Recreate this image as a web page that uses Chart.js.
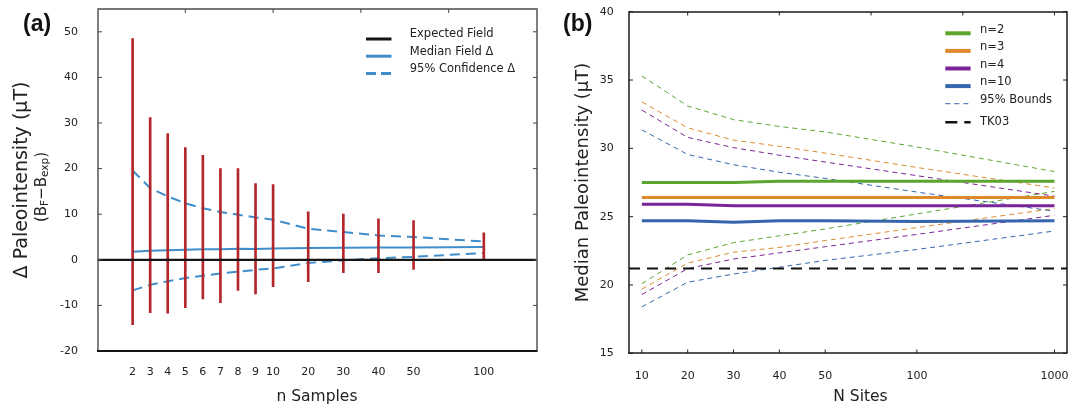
<!DOCTYPE html>
<html>
<head>
<meta charset="utf-8">
<script src="https://cdn.jsdelivr.net/npm/chart.js@4.4.1/dist/chart.umd.min.js"></script>
<style>
  html, body { margin: 0; padding: 0; background: #fff; }
  #wrap { position: relative; width: 1075px; height: 407px; overflow: hidden; }
  .panel { position: absolute; top: 0; height: 407px; }
  #pa { left: 0; width: 540px; }
  #pb { left: 540px; width: 535px; }
</style>
</head>
<body>
<div id="wrap">
  <div class="panel" id="pa"><canvas id="ca" width="540" height="407"></canvas></div>
  <div class="panel" id="pb"><canvas id="cb" width="535" height="407"></canvas></div>
</div>
<script>
// ---------- panel (a): field offset against number of samples ----------
const sampleLabels = ['2', '3', '4', '5', '6', '7', '8', '9', '10', '20', '30', '40', '50', '100'];
const samplePos    = [0, 1, 2, 3, 4, 5, 6, 7, 8, 10, 12, 14, 16, 20];   // slot of each sample count
const sampleRange  = [-2, 23];
const sampleTopTicks = [3, 8, 13, 18];
const barHigh     = [48.5, 31.2, 27.7, 24.6, 22.9, 20.0, 20.0, 16.7, 16.5, 10.5, 10.0, 9.0, 8.6, 5.9];
const barLow      = [-14.2, -11.6, -11.7, -10.5, -8.6, -9.4, -6.7, -7.5, -5.9, -4.8, -2.8, -2.8, -2.1, 0.0];
const medianDelta = [1.75, 2.0, 2.1, 2.2, 2.3, 2.3, 2.4, 2.35, 2.5, 2.6, 2.65, 2.7, 2.7, 2.8];
const upperDelta  = [19.6, 15.7, 13.9, 12.4, 11.3, 10.5, 9.9, 9.3, 8.8, 6.8, 6.1, 5.35, 5.0, 4.0];
const lowerDelta  = [-6.7, -5.5, -4.7, -4.0, -3.5, -3.0, -2.6, -2.2, -1.9, -0.7, -0.1, 0.35, 0.65, 1.5];
const expectedDelta = 0;
const deltaRange  = [-20, 55];
const deltaTicks  = [-20, -10, 0, 10, 20, 30, 40, 50];

// ---------- panel (b): median intensity against number of sites ----------
const siteLabels = ['10', '20', '30', '40', '50', '100', '1000'];
const sitePos    = [0, 1, 2, 3, 4, 6, 9];
const siteRange  = [-0.28, 9.28];
const siteTopTicks = [1, 3, 5, 7, 9];
const medianN2  = [27.5, 27.5, 27.5, 27.6, 27.6, 27.6, 27.6];
const medianN3  = [26.4, 26.4, 26.4, 26.4, 26.4, 26.4, 26.4];
const medianN4  = [25.9, 25.9, 25.8, 25.8, 25.8, 25.8, 25.8];
const medianN10 = [24.7, 24.7, 24.6, 24.7, 24.7, 24.65, 24.7];
const upperN2   = [35.3, 33.1, 32.1, 31.6, 31.2, 30.1, 28.3];
const upperN3   = [33.4, 31.5, 30.6, 30.15, 29.65, 28.6, 27.1];
const upperN4   = [32.8, 30.8, 30.05, 29.5, 29.0, 28.0, 26.5];
const upperN10  = [31.35, 29.55, 28.8, 28.25, 27.8, 26.8, 25.4];
const lowerN2   = [20.1, 22.2, 23.1, 23.6, 24.1, 25.2, 26.85];
const lowerN3   = [19.7, 21.6, 22.4, 22.75, 23.25, 24.2, 25.6];
const lowerN4   = [19.3, 21.2, 21.9, 22.35, 22.8, 23.7, 25.1];
const lowerN10  = [18.4, 20.2, 20.8, 21.3, 21.8, 22.6, 23.95];
const tk03Field = 21.2;
const fieldRange = [15, 40];
const fieldTicks = [15, 20, 25, 30, 35, 40];

// second line of the (a) axis title: B_F − B_exp
const deltaNoteRuns = [
  { text: '(', size: 15, shift: 0 }, { text: 'B', size: 15, shift: 0 }, { text: 'F', size: 10.5, shift: 3 },
  { text: '−', size: 15, shift: 0 }, { text: 'B', size: 15, shift: 0 }, { text: 'exp', size: 10.5, shift: 3 },
  { text: ')', size: 15, shift: 0 }
];

const FAMILY = "'DejaVu Sans', Verdana, sans-serif";
Chart.defaults.font.family = FAMILY;
Chart.defaults.color = '#222';

const blueA = '#3f8ecb';
const redA  = '#b3262a';
const green = '#5ca52f', orange = '#dc8a2c', purple = '#7b2398', blue = '#3565ad';

const xy = (pos, vals) => pos.map((p, i) => ({ x: p, y: vals[i] }));
const fixTicks = values => scale => { scale.ticks = values.map(v => ({ value: v })); };

// frame with inward tick marks on every side
const framePlugin = {
  id: 'frame',
  afterDatasetsDraw(chart, args, o) {
    const { ctx, chartArea: a, scales: { x, y } } = chart;
    const L = Math.round(a.left), R = Math.round(a.right), T = Math.round(a.top), B = Math.round(a.bottom);
    ctx.save();
    ctx.lineCap = 'butt';
    ctx.strokeStyle = o.tickColor;
    ctx.lineWidth = o.tickWidth;
    ctx.beginPath();
    y.ticks.forEach(t => {
      const py = y.getPixelForValue(t.value);
      ctx.moveTo(L, py); ctx.lineTo(L + o.tickLen, py);
      ctx.moveTo(R, py); ctx.lineTo(R - o.tickLen, py);
    });
    if (o.bottomTicks) {
      x.ticks.forEach(t => {
        const px = x.getPixelForValue(t.value);
        ctx.moveTo(px, B); ctx.lineTo(px, B - o.xTickLen);
      });
    }
    (o.topTicks || []).forEach(v => {
      const px = x.getPixelForValue(v);
      ctx.moveTo(px, T); ctx.lineTo(px, T + o.xTickLen);
    });
    ctx.stroke();
    ctx.strokeStyle = o.sideColor;
    ctx.lineWidth = o.sideWidth;
    ctx.beginPath();
    ctx.moveTo(L, B); ctx.lineTo(L, T); ctx.lineTo(R, T); ctx.lineTo(R, B);
    ctx.stroke();
    ctx.strokeStyle = o.baseColor;
    ctx.lineWidth = o.baseWidth;
    ctx.beginPath();
    ctx.moveTo(L - 1, B); ctx.lineTo(R + 0.5, B);
    ctx.stroke();
    ctx.restore();
  }
};

// key drawn from the labelled datasets
const keyPlugin = {
  id: 'key',
  afterDraw(chart, args, o) {
    const ctx = chart.ctx;
    ctx.save();
    ctx.font = o.font;
    ctx.fillStyle = o.color;
    ctx.textBaseline = 'middle';
    ctx.textAlign = 'left';
    let row = 0;
    chart.data.datasets.forEach(ds => {
      if (!ds.label) return;
      const ly = o.y + row * o.rowGap + (ds.keyShift || 0);
      ctx.strokeStyle = ds.borderColor;
      ctx.lineWidth = ds.keyWidth || ds.borderWidth;
      ctx.setLineDash(ds.keyDash || ds.borderDash || []);
      ctx.beginPath(); ctx.moveTo(o.x0, ly); ctx.lineTo(o.x1, ly); ctx.stroke();
      ctx.setLineDash([]);
      const ty = ly - (ds.keyTextDy !== undefined ? ds.keyTextDy : o.textDy);
      ctx.fillText(ds.label, o.textX, ty);
      row++;
    });
    ctx.restore();
  }
};

// panel letter, subscripted axis note and free titles
const captionPlugin = {
  id: 'caption',
  afterDraw(chart, args, o) {
    const ctx = chart.ctx;
    ctx.save();
    ctx.fillStyle = '#111';
    ctx.textBaseline = 'middle';
    ctx.textAlign = 'left';
    ctx.font = "bold 23px 'Liberation Sans', Arial, sans-serif";
    ctx.fillText(o.letter, o.letterX, o.letterY);
    if (o.title) {
      ctx.font = o.titleFont;
      ctx.fillStyle = '#222';
      ctx.textAlign = 'center';
      ctx.fillText(o.title, o.titleX, o.titleY);
    }
    if (o.withNote) {
      ctx.translate(o.noteX, o.noteY);
      ctx.rotate(-Math.PI / 2);
      ctx.textAlign = 'left';
      ctx.fillStyle = '#222';
      let total = 0;
      deltaNoteRuns.forEach(r => { ctx.font = r.size + 'px ' + FAMILY; total += ctx.measureText(r.text).width; });
      let cx = -total / 2;
      deltaNoteRuns.forEach(r => {
        ctx.font = r.size + 'px ' + FAMILY;
        ctx.fillText(r.text, cx, r.shift);
        cx += ctx.measureText(r.text).width;
      });
    }
    ctx.restore();
  }
};

const basePlugins = { legend: { display: false }, tooltip: { enabled: false } };

// ---------------- (a) ----------------
new Chart(document.getElementById('ca'), {
  type: 'line',
  data: {
    datasets: [
      { label: 'Expected Field', data: [{ x: sampleRange[0], y: expectedDelta }, { x: sampleRange[1], y: expectedDelta }],
        borderColor: '#151515', borderWidth: 2.2, keyWidth: 3, order: 0 },
      { label: 'Median Field Δ', data: xy(samplePos, medianDelta), borderColor: blueA, borderWidth: 2, keyWidth: 3, order: 2 },
      { label: '95% Confidence Δ', data: xy(samplePos, upperDelta), borderColor: blueA, borderWidth: 2,
        borderDash: [10, 6], keyWidth: 3, keyDash: [10, 5], order: 2 },
      { data: xy(samplePos, lowerDelta), borderColor: blueA, borderWidth: 2, borderDash: [10, 6], order: 2 },
      { type: 'bar', data: samplePos.map((p, i) => ({ x: p, y: [barLow[i], barHigh[i]] })),
        backgroundColor: redA, borderWidth: 0, barThickness: 2, grouped: false, order: 1 }
    ]
  },
  options: {
    responsive: false,
    animation: false,
    layout: { padding: { top: 9, right: 3.5, left: 0, bottom: 0 } },
    elements: { point: { radius: 0 }, line: { tension: 0, fill: false } },
    scales: {
      x: {
        type: 'linear', min: sampleRange[0], max: sampleRange[1], offset: false,
        grid: { display: false, offset: false }, border: { display: false },
        afterBuildTicks: fixTicks(samplePos),
        afterFit: s => { s.height = 56; s.paddingLeft = 0; s.paddingRight = 0; },
        ticks: { padding: 6.7, font: { size: 11 }, maxRotation: 0, autoSkip: false,
                 callback: v => sampleLabels[samplePos.indexOf(v)] },
        title: { display: true, text: 'n Samples', font: { size: 15.5 }, padding: { top: 0, bottom: 0.7 } }
      },
      y: {
        min: deltaRange[0], max: deltaRange[1],
        grid: { display: false }, border: { display: false },
        afterBuildTicks: fixTicks(deltaTicks),
        afterFit: s => { s.width = 97.5; s.paddingTop = 0; s.paddingBottom = 0; },
        ticks: { padding: 11.5, font: { size: 11 } },
        title: { display: true, text: 'Δ Paleointensity (μT)', font: { size: 19 }, padding: { top: 11, bottom: 0 } }
      }
    },
    plugins: Object.assign({}, basePlugins, {
      frame: { tickColor: '#444', tickWidth: 1, tickLen: 4, xTickLen: 4, topTicks: sampleTopTicks,
               sideColor: '#4a4a4a', sideWidth: 1.4, baseColor: '#151515', baseWidth: 2 },
      key: { x0: 366, x1: 391.5, textX: 409.8, y: 39, rowGap: 17.2, textDy: 4.5,
             font: "11.5px " + FAMILY, color: '#222' },
      caption: { letter: '(a)', letterX: 23, letterY: 25, withNote: true, noteX: 42, noteY: 187 }
    })
  },
  plugins: [framePlugin, keyPlugin, captionPlugin]
});

// ---------------- (b) ----------------
const bound = (vals, color) => ({ data: xy(sitePos, vals), borderColor: color, borderWidth: 1, borderDash: [5, 4], order: 2 });

new Chart(document.getElementById('cb'), {
  type: 'line',
  data: {
    datasets: [
      { label: 'n=2',  data: xy(sitePos, medianN2),  borderColor: green,  borderWidth: 3, keyWidth: 4, order: 1 },
      { label: 'n=3',  data: xy(sitePos, medianN3),  borderColor: orange, borderWidth: 3, keyWidth: 4, order: 1 },
      { label: 'n=4',  data: xy(sitePos, medianN4),  borderColor: purple, borderWidth: 3, keyWidth: 4, order: 1 },
      { label: 'n=10', data: xy(sitePos, medianN10), borderColor: blue,   borderWidth: 3, keyWidth: 4, order: 1 },
      Object.assign(bound(upperN10, blue), { label: '95% Bounds' }),
      { label: 'TK03', data: [{ x: siteRange[0], y: tk03Field }, { x: siteRange[1], y: tk03Field }],
        borderColor: '#111', borderWidth: 2, borderDash: [11, 7], keyWidth: 2.5, keyDash: [12, 7],
        keyShift: 0.9, keyTextDy: 0, order: 0 },
      bound(upperN2, green), bound(upperN3, orange), bound(upperN4, purple),
      bound(lowerN2, green), bound(lowerN3, orange), bound(lowerN4, purple), bound(lowerN10, blue)
    ]
  },
  options: {
    responsive: false,
    animation: false,
    layout: { padding: { top: 11.7, right: 7.7, left: 0, bottom: 0 } },
    elements: { point: { radius: 0 }, line: { tension: 0, fill: false } },
    scales: {
      x: {
        type: 'linear', min: siteRange[0], max: siteRange[1], offset: false,
        grid: { display: false }, border: { display: false },
        afterBuildTicks: fixTicks(sitePos),
        afterFit: s => { s.height = 53.7; s.paddingLeft = 0; s.paddingRight = 0; },
        ticks: { padding: 7.8, font: { size: 11 }, maxRotation: 0, autoSkip: false,
                 callback: v => siteLabels[sitePos.indexOf(v)] },
        title: { display: false }
      },
      y: {
        min: fieldRange[0], max: fieldRange[1],
        grid: { display: false }, border: { display: false },
        afterBuildTicks: fixTicks(fieldTicks),
        afterFit: s => { s.width = 89; s.paddingTop = 0; s.paddingBottom = 0; },
        ticks: { padding: 7.3, font: { size: 11 } },
        title: { display: true, text: 'Median Paleointensity (μT)', font: { size: 18 }, padding: { top: 33, bottom: 0 } }
      }
    },
    plugins: Object.assign({}, basePlugins, {
      frame: { tickColor: '#222', tickWidth: 1, tickLen: 4, xTickLen: 3.5, bottomTicks: true, topTicks: siteTopTicks,
               sideColor: '#1a1a1a', sideWidth: 1.5, baseColor: '#1a1a1a', baseWidth: 1.5 },
      key: { x0: 405.3, x1: 430.6, textX: 440, y: 33.3, rowGap: 17.6, textDy: 3.7,
             font: "11.5px " + FAMILY, color: '#222' },
      caption: { letter: '(b)', letterX: 23, letterY: 25, withNote: false,
                 title: 'N Sites', titleX: 320.5, titleY: 397, titleFont: "15.5px " + FAMILY }
    })
  },
  plugins: [framePlugin, keyPlugin, captionPlugin]
});
</script>
</body>
</html>
